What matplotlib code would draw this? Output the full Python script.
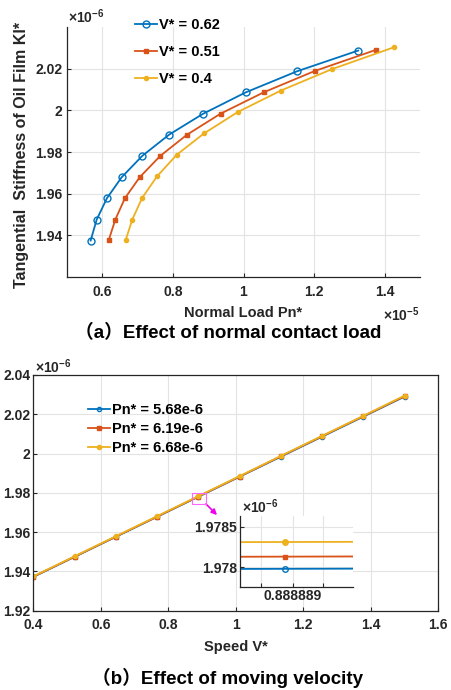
import numpy as np
import matplotlib
matplotlib.use("Agg")
import matplotlib.pyplot as plt
from matplotlib.patches import Rectangle

plt.rcParams['font.family'] = ['Liberation Sans', 'Noto Sans CJK SC', 'DejaVu Sans']
plt.rcParams['font.weight'] = 'bold'
plt.rcParams['mathtext.fontset'] = 'custom'
plt.rcParams['mathtext.rm'] = 'Liberation Sans'
plt.rcParams['mathtext.bf'] = 'Liberation Sans:bold'

C_BLUE, C_RED, C_YEL = '#0072BD', '#D95319', '#EDB120'
GRID = '#e3e3e3'
DARK = '#262626'

# ---- panel (a): stiffness vs normal load (x in 1e-5, y in 1e-6)
pn_v062 = [0.567, 0.584, 0.613, 0.655, 0.713, 0.789, 0.885, 1.006, 1.151, 1.325]
kl_v062 = [1.9375, 1.9475, 1.9578, 1.9679, 1.9781, 1.9883, 1.9983, 2.0086, 2.0187, 2.0287]
pn_v051 = [0.618, 0.637, 0.664, 0.706, 0.764, 0.840, 0.935, 1.058, 1.202, 1.375]
kl_v051 = [1.9376, 1.9476, 1.9578, 1.9679, 1.9781, 1.9883, 1.9984, 2.0087, 2.0189, 2.0290]
pn_v040 = [0.666, 0.685, 0.713, 0.755, 0.811, 0.888, 0.984, 1.106, 1.251, 1.425]
kl_v040 = [1.9376, 1.9476, 1.9580, 1.9683, 1.9787, 1.9889, 1.9992, 2.0095, 2.0198, 2.0302]
labels_a = ['V* = 0.62', 'V* = 0.51', 'V* = 0.4']

# ---- panel (b): stiffness vs speed (y in 1e-6)
speed = [0.4, 0.522222, 0.644444, 0.766667, 0.888889, 1.011111, 1.133333, 1.255556, 1.377778, 1.5]
kl_p568 = [1.9372, 1.9474, 1.9576, 1.9678, 1.97798, 1.9882, 1.9984, 2.0086, 2.0188, 2.0290]
kl_p619 = [1.9373, 1.9475, 1.9577, 1.9679, 1.97813, 1.9883, 1.9986, 2.0088, 2.0190, 2.0292]
kl_p668 = [1.9375, 1.9477, 1.9579, 1.9681, 1.97831, 1.9885, 1.9988, 2.0090, 2.0192, 2.0295]
labels_b = ['Pn* = 5.68e-6', 'Pn* = 6.19e-6', 'Pn* = 6.68e-6']

W, H = 451, 690
fig = plt.figure(figsize=(W / 100, H / 100), dpi=100)


def fx(px):
    return px / W


def fy(py):
    return 1 - py / H


def g(v):
    return '{:g}'.format(v)


def style_axes(ax, box):
    ax.grid(True, color=GRID, linewidth=0.8)
    ax.set_axisbelow(True)
    ax.tick_params(direction='in', length=3, width=0.8, colors=DARK, labelsize=10)
    for s in ax.spines.values():
        s.set_color(DARK)
        s.set_linewidth(0.9)
    if not box:
        ax.spines['top'].set_visible(False)
        ax.spines['right'].set_visible(False)


# ================= panel (a)
ax1 = fig.add_axes([fx(67), fy(277), fx(420) - fx(67), fy(27) - fy(277)])
style_axes(ax1, box=False)
series_a = [(pn_v062, kl_v062, C_BLUE, 'o', 5, 'none'),
            (pn_v051, kl_v051, C_RED, 's', 2.5, C_RED),
            (pn_v040, kl_v040, C_YEL, 'o', 3, C_YEL)]
for (x, y, c, m, ms, mfc), lab in zip(series_a, labels_a):
    ax1.plot(x, y, color=c, marker=m, markersize=ms, markerfacecolor=mfc,
             markeredgewidth=1.0, linewidth=1.3, label=lab)
ax1.set_xlim(0.5, 1.5)
ax1.set_ylim(1.92, 2.04)
xt = [0.6, 0.8, 1.0, 1.2, 1.4]
yt = [1.94, 1.96, 1.98, 2.0, 2.02]
ax1.set_xticks(xt)
ax1.set_xticklabels([g(v) for v in xt])
ax1.set_yticks(yt)
ax1.set_yticklabels([g(v) for v in yt])
ax1.tick_params(axis='x', pad=6)
ax1.legend(loc='upper left', bbox_to_anchor=(fx(135), fy(18)), bbox_transform=fig.transFigure,
           frameon=False, borderpad=0, borderaxespad=0, handlelength=1.5, handletextpad=0.15,
           labelspacing=0.9, prop={'size': 10.5, 'weight': 'bold'})

fig.text(fx(68), fy(17), r'$\times\mathbf{10^{-6}}$', fontsize=10, color=DARK, va='center')
fig.text(fx(383), fy(315), r'$\times\mathbf{10^{-5}}$', fontsize=10, color=DARK, va='center')
fig.text(fx(22), fy(155), 'Tangential  Stiffness of Oil Film Kl*', rotation=90,
         ha='center', va='center', fontsize=11.5, color=DARK)
fig.text(fx(243), fy(313), 'Normal Load Pn*', ha='center', va='center', fontsize=10.5, color=DARK)
fig.text(fx(228), fy(333), '（a）Effect of normal contact load', ha='center', va='center',
         fontsize=13.5, color='black')

# ================= panel (b)
ax2 = fig.add_axes([fx(33.3), fy(610.7), fx(438.3) - fx(33.3), fy(375) - fy(610.7)])
style_axes(ax2, box=True)
series_b = [(kl_p568, C_BLUE, 'o', 3, 'none'),
            (kl_p619, C_RED, 's', 2.5, C_RED),
            (kl_p668, C_YEL, 'o', 3, C_YEL)]
for (y, c, m, ms, mfc), lab in zip(series_b, labels_b):
    ax2.plot(speed, y, color=c, marker=m, markersize=ms, markerfacecolor=mfc,
             markeredgewidth=1.0, linewidth=1.3, label=lab)
ax2.set_xlim(0.4, 1.6)
ax2.set_ylim(1.92, 2.04)
xt2 = [0.4, 0.6, 0.8, 1.0, 1.2, 1.4, 1.6]
yt2 = [1.92, 1.94, 1.96, 1.98, 2.0, 2.02, 2.04]
ax2.set_xticks(xt2)
ax2.set_xticklabels([g(v) for v in xt2])
ax2.set_yticks(yt2)
ax2.set_yticklabels([g(v) for v in yt2])
ax2.tick_params(axis='y', pad=2)
ax2.tick_params(axis='x', pad=5)
ax2.legend(loc='upper left', bbox_to_anchor=(fx(88), fy(403)), bbox_transform=fig.transFigure,
           frameon=False, borderpad=0, borderaxespad=0, handlelength=1.5, handletextpad=0.15,
           labelspacing=0.33, prop={'size': 10.5, 'weight': 'bold'})

# zoom marker box and arrow
ax2.add_patch(Rectangle((0.871, 1.9743), 0.040, 0.0054, fill=False, edgecolor='#ff66ff',
                        linewidth=0.8, zorder=5))
ax2.annotate('', xy=(fx(219), fy(517)), xycoords='figure fraction',
             xytext=(fx(204), fy(502)), textcoords='figure fraction',
             arrowprops=dict(arrowstyle='-|>', color='#ee00ee', lw=1.2, mutation_scale=8))

fig.text(fx(35), fy(367), r'$\times\mathbf{10^{-6}}$', fontsize=10, color=DARK, va='center')
fig.text(fx(236), fy(647), 'Speed V*', ha='center', va='center', fontsize=10.5, color=DARK)
fig.text(fx(228), fy(678), '（b）Effect of moving velocity', ha='center', va='center',
         fontsize=13.5, color='black')

# ================= inset
ax3 = fig.add_axes([fx(240), fy(586.7), fx(352.7) - fx(240), fy(516) - fy(586.7)])
style_axes(ax3, box=False)
for (y, c, m, ms, mfc), lab in zip(series_b, labels_b):
    ax3.plot(speed, y, color=c, marker=m, markersize=ms + 1, markerfacecolor=mfc,
             markeredgewidth=1.0, linewidth=1.3)
ax3.set_xlim(0.888873, 0.888913)
ax3.set_ylim(1.97776, 1.97863)
ax3.set_xticks([0.8888806, 0.8888918, 0.8889026])
ax3.set_xticklabels(['', '0.888889', ''])
ax3.set_yticks([1.978, 1.9785])
ax3.set_yticklabels(['1.978', '1.9785'])
ax3.tick_params(axis='both', pad=2)
fig.text(fx(242), fy(507), r'$\times\mathbf{10^{-6}}$', fontsize=10, color=DARK, va='center')

fig.savefig('out.png', dpi=100)
